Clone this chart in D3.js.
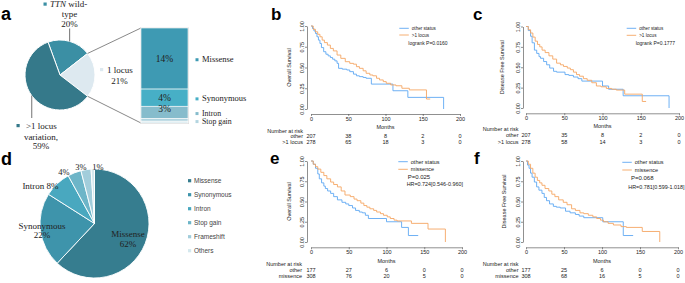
<!DOCTYPE html>
<html lang="en">
<head>
<meta charset="UTF-8">
<title>TTN variation and survival</title>
<script src="https://d3js.org/d3.v7.min.js"></script>
<style>
  body { margin: 0; background: #fff; }
  svg { display: block; }
  .serif { font-family: "Liberation Serif", "Times New Roman", serif; fill: #222; }
  .sans { font-family: "Liberation Sans", Arial, sans-serif; fill: #444; }
  .km text { font-family: "Liberation Sans", Arial, sans-serif; fill: #222; }
  .km .domain, .km .tick line { stroke: #444; stroke-width: 0.6; }
  .tag { font-family: "Liberation Sans", Arial, sans-serif; font-weight: bold; fill: #000; }
</style>
</head>
<body>
<div id="chart"></div>
<script>
// panel a: TTN status and the 1-locus breakdown
const aNames = ["TTN wild-type", "1 locus", ">1 locus variation"];
const aValues = [20, 21, 59];
const barNames = ["Missense", "Synonymous", "Intron", "Stop gain", "Others"];
const barValues = [13.5, 3.8, 2.7, 0.6, 0.4];

// panel d: variant types
const dNames = ["Missense", "Synonymous", "Intron", "Stop gain", "Frameshift", "Others"];
const dValues = [62, 22, 8, 4, 3, 1];

// survival axes / risk table
const survTicks = [0, 0.25, 0.5, 0.75, 1];
const monthTicks = [0, 50, 100, 150, 200];
const riskTimes = [0, 50, 100, 150, 200];

// KM curves, [months, survival]
const bOther = [[0,1],[2,0.97],[4,0.94],[6,0.91],[8,0.87],[10,0.83],[12,0.79],[14,0.74],[17,0.69],[20,0.66],[23,0.64],[26,0.62],[29,0.6],[32,0.58],[35,0.55],[37,0.49],[42,0.48],[48,0.47],[52,0.45],[57,0.42],[61,0.4],[65,0.39],[70,0.38],[74,0.37],[81,0.3],[110,0.22],[130,0.14],[178,0]];
const bLocus = [[0,1],[3,0.96],[6,0.93],[9,0.9],[12,0.87],[15,0.83],[18,0.8],[22,0.77],[26,0.73],[30,0.7],[35,0.65],[40,0.61],[46,0.57],[52,0.55],[57,0.54],[61,0.51],[65,0.49],[70,0.46],[74,0.43],[79,0.41],[83,0.4],[88,0.37],[92,0.35],[97,0.33],[101,0.31],[107,0.29],[114,0.28],[122,0.25],[132,0.23],[155,0.12]];
const cOther = [[0,1],[3,0.95],[6,0.88],[8,0.8],[11,0.71],[14,0.67],[17,0.63],[19,0.61],[23,0.57],[27,0.53],[31,0.49],[36,0.45],[40,0.44],[51,0.41],[56,0.4],[62,0.38],[68,0.36],[73,0.33],[100,0.27],[108,0.23],[127,0.15],[187,0]];
const cLocus = [[0,1],[3,0.96],[6,0.92],[9,0.87],[12,0.82],[15,0.78],[18,0.75],[21,0.71],[25,0.68],[30,0.64],[35,0.6],[40,0.55],[45,0.53],[49,0.51],[54,0.49],[58,0.47],[62,0.44],[66,0.41],[70,0.39],[75,0.36],[80,0.34],[86,0.31],[92,0.27],[98,0.26],[105,0.24],[112,0.23],[118,0.22],[129,0.17],[152,0.08]];
const eOther = [[0,1],[3,0.96],[6,0.91],[9,0.84],[11,0.78],[14,0.73],[17,0.69],[19,0.66],[22,0.63],[26,0.6],[30,0.56],[35,0.52],[41,0.49],[46,0.47],[50,0.45],[55,0.42],[59,0.39],[64,0.37],[68,0.36],[72,0.33],[76,0.29],[100,0.25],[120,0.18],[129,0.08]];
const eMis = [[0,1],[3,0.96],[6,0.93],[9,0.9],[13,0.86],[17,0.82],[21,0.78],[26,0.74],[30,0.71],[35,0.68],[40,0.63],[45,0.58],[52,0.56],[57,0.53],[61,0.51],[66,0.48],[70,0.45],[74,0.43],[78,0.41],[83,0.39],[87,0.37],[92,0.35],[96,0.33],[101,0.31],[105,0.29],[110,0.27],[114,0.26],[133,0.23],[155,0.16],[178,0]];
const fOther = [[0,1],[2,0.95],[4,0.91],[6,0.85],[8,0.8],[11,0.74],[14,0.68],[17,0.64],[21,0.6],[24,0.55],[27,0.51],[31,0.47],[36,0.44],[40,0.43],[45,0.42],[52,0.38],[58,0.36],[65,0.34],[70,0.32],[76,0.3],[101,0.25],[128,0.08]];
const fMis = [[0,1],[3,0.96],[6,0.91],[9,0.85],[12,0.8],[15,0.76],[18,0.73],[21,0.7],[25,0.66],[30,0.63],[34,0.59],[38,0.56],[43,0.52],[49,0.49],[54,0.46],[60,0.41],[65,0.39],[71,0.36],[76,0.35],[82,0.33],[88,0.31],[93,0.29],[98,0.27],[102,0.25],[108,0.23],[115,0.21],[125,0.19],[132,0.18],[153,0.13],[176,0]];

const bRiskOther = [207, 38, 8, 2, 0], bRiskLocus = [278, 65, 18, 3, 0];
const cRiskOther = [207, 35, 8, 2, 0], cRiskLocus = [278, 58, 14, 3, 0];
const eRiskOther = [177, 27, 6, 0, 0], eRiskMis = [308, 76, 20, 5, 0];
const fRiskOther = [177, 25, 6, 0, 0], fRiskMis = [308, 68, 16, 5, 0];

const blue = "#5fa8f3", orange = "#f5a663";

const svg = d3.select("#chart").append("svg").attr("width", 685).attr("height", 283);
svg.append("rect").attr("width", 685).attr("height", 283).attr("fill", "#fff");

// panel letters
[["a", 1, 20, 18], ["b", 271, 20, 17], ["c", 473, 19.5, 17], ["d", 1, 165, 18], ["e", 270, 164, 17], ["f", 474, 164, 17]]
  .forEach(t => svg.append("text").attr("class", "tag").attr("x", t[1]).attr("y", t[2]).attr("font-size", t[3]).text(t[0]));

// ---------- panel a ----------
const aColors = ["#3b8fa4", "#dde9f0", "#35798a"];
const aCx = 60, aCy = 75, aR = 35;
const a0 = -20 * Math.PI / 180;
const aArcs = d3.pie().sort(null).startAngle(a0).endAngle(a0 + 2 * Math.PI)(aValues);
const aArc = d3.arc().innerRadius(0).outerRadius(aR);
const aG = svg.append("g").attr("transform", `translate(${aCx},${aCy})`);
aG.selectAll("path").data(aArcs).join("path")
  .attr("d", aArc).attr("fill", (d, i) => aColors[i]).attr("stroke", "#fff").attr("stroke-width", 1);
const onA = (ang, r) => [aCx + r * Math.sin(ang), aCy - r * Math.cos(ang)];

// stacked bar for the 1-locus slice
const barColors = ["#3e9ab3", "#47afc6", "#86bccc", "#b3d5e0", "#d6e8ee"];
const bx0 = 141, bx1 = 188;
const bY = d3.scaleLinear().domain([0, d3.sum(barValues)]).range([28, 123]);
const stack = [];
barValues.reduce((acc, v, i) => { stack.push({ name: barNames[i], v, y0: acc, y1: acc + v }); return acc + v; }, 0);

const p1 = onA(aArcs[1].startAngle, aR), p2 = onA(aArcs[1].endAngle, aR);
svg.append("line").attr("x1", p1[0]).attr("y1", p1[1]).attr("x2", bx0).attr("y2", bY(0)).attr("stroke", "#555").attr("stroke-width", 0.7);
svg.append("line").attr("x1", p2[0]).attr("y1", p2[1]).attr("x2", bx0).attr("y2", bY(d3.sum(barValues))).attr("stroke", "#555").attr("stroke-width", 0.7);

svg.append("rect").attr("x", bx0 - 0.5).attr("y", bY(0) - 0.5).attr("width", bx1 - bx0 + 1.5).attr("height", bY(d3.sum(barValues)) - bY(0) + 1.5)
  .attr("fill", "#ddd");
svg.selectAll("rect.seg").data(stack).join("rect").attr("class", "seg")
  .attr("x", bx0).attr("width", bx1 - bx0)
  .attr("y", d => bY(d.y0)).attr("height", d => bY(d.y1) - bY(d.y0))
  .attr("fill", (d, i) => barColors[i]).attr("stroke", "#fff").attr("stroke-width", 0.6);
stack.forEach(d => {
  if (d.v < 2) return;
  const yc = (bY(d.y0) + bY(d.y1)) / 2;
  svg.append("text").attr("class", "serif").attr("font-size", 9.5).attr("text-anchor", "middle")
    .attr("x", (bx0 + bx1) / 2).attr("y", yc + 3 - (d.v < 3 ? 3 : 0)).text(Math.round(d.v) + "%");
});
let prevY = -99;
stack.slice(0, 4).forEach((d, i) => {
  let yc = (bY(d.y0) + bY(d.y1)) / 2 + 1.2;
  yc = Math.max(yc, prevY + 8); prevY = yc;
  svg.append("rect").attr("x", 195.5).attr("y", yc - 1.5).attr("width", 3).attr("height", 3).attr("fill", barColors[i]);
  svg.append("text").attr("class", "serif").attr("font-size", i > 1 ? 7.8 : 8.5).attr("x", 202).attr("y", yc + 2.6).text(d.name);
});

// pie labels
const sq = (x, y, c) => svg.append("rect").attr("x", x).attr("y", y).attr("width", 3.2).attr("height", 3.2).attr("fill", c);
const pct = v => v + "%";
// TTN wild-type
sq(43.5, 2.5, aColors[0]);
const t1 = svg.append("text").attr("class", "serif").attr("font-size", 9).attr("x", 50).attr("y", 6.5);
t1.append("tspan").attr("font-style", "italic").text("TTN");
t1.append("tspan").text(" wild-");
svg.append("text").attr("class", "serif").attr("font-size", 9).attr("text-anchor", "middle").attr("x", 69.5).attr("y", 17).text("type");
svg.append("text").attr("class", "serif").attr("font-size", 9).attr("text-anchor", "middle").attr("x", 69.5).attr("y", 27.3).text(pct(aValues[0]));
const m0 = onA((aArcs[0].startAngle + aArcs[0].endAngle) / 2, aR);
svg.append("line").attr("x1", m0[0]).attr("y1", m0[1]).attr("x2", m0[0]).attr("y2", 28.5).attr("stroke", "#333").attr("stroke-width", 0.7);
// 1 locus
sq(100, 68, aColors[1]);
svg.append("text").attr("class", "serif").attr("font-size", 9).attr("x", 107).attr("y", 73).text(aNames[1]);
svg.append("text").attr("class", "serif").attr("font-size", 9).attr("text-anchor", "middle").attr("x", 119.5).attr("y", 84).text(pct(aValues[1]));
// >1 locus
const m2 = onA((aArcs[2].startAngle + aArcs[2].endAngle) / 2, aR);
svg.append("line").attr("x1", m2[0]).attr("y1", m2[1]).attr("x2", m2[0]).attr("y2", 118).attr("stroke", "#333").attr("stroke-width", 0.7);
sq(16.5, 124, aColors[2]);
svg.append("text").attr("class", "serif").attr("font-size", 9).attr("x", 26).attr("y", 128.8).text(">1 locus");
svg.append("text").attr("class", "serif").attr("font-size", 9).attr("text-anchor", "middle").attr("x", 41).attr("y", 139.5).text("variation,");
svg.append("text").attr("class", "serif").attr("font-size", 9).attr("text-anchor", "middle").attr("x", 41).attr("y", 148.5).text(pct(aValues[2]));

// ---------- panel d ----------
const dColors = ["#367d8f", "#3e94ab", "#49a8bf", "#6db5c8", "#a2cddb", "#d4e8ee"];
const dCx = 94.5, dCy = 223.5, dR = 54.5;
const dArcs = d3.pie().sort(null)(dValues);
svg.append("g").attr("transform", `translate(${dCx},${dCy})`)
  .selectAll("path").data(dArcs).join("path")
  .attr("d", d3.arc().innerRadius(0).outerRadius(dR))
  .attr("fill", (d, i) => dColors[i]).attr("stroke", "#fff").attr("stroke-width", 0.9);

const dLabelAt = [[128, 237.3, true], [42, 228.6, true], [40.5, 189, false], [64, 175, false], [81, 169.5, false], [98, 169.5, false]];
dArcs.forEach((d, i) => {
  const [lx, ly, two] = dLabelAt[i];
  if (two) {
    svg.append("text").attr("class", "serif").attr("font-size", 9).attr("text-anchor", "middle").attr("x", lx).attr("y", ly).text(dNames[i]);
    svg.append("text").attr("class", "serif").attr("font-size", 9).attr("text-anchor", "middle").attr("x", lx).attr("y", ly + 9.2).text(pct(dValues[i]));
  } else {
    const lab = i === 2 ? dNames[i] + " " + pct(dValues[i]) : pct(dValues[i]);
    svg.append("text").attr("class", "serif").attr("font-size", i === 2 ? 9 : 8.5).attr("text-anchor", "middle").attr("x", lx).attr("y", ly).text(lab);
  }
});
dNames.forEach((n, i) => {
  const yc = 180.7 + i * 14;
  svg.append("rect").attr("x", 188).attr("y", yc - 1.6).attr("width", 3.2).attr("height", 3.2).attr("fill", dColors[i]);
  svg.append("text").attr("class", "sans").attr("font-size", 6.5).attr("x", 194).attr("y", yc + 2.3).text(n);
});

// ---------- KM panels ----------
function kmPanel(p) {
  const g = svg.append("g").attr("class", "km");
  const x = d3.scaleLinear().domain([0, 200]).range([p.x0, p.x1]);
  const y = d3.scaleLinear().domain([0, 1]).range([p.y0, p.y1]);

  const yAx = g.append("g").attr("transform", `translate(${p.yAxisX},0)`)
    .call(d3.axisLeft(y).tickValues(survTicks).tickFormat(d3.format(".2f")).tickSize(2).tickSizeOuter(0));
  yAx.attr("font-size", 5.5);
  yAx.selectAll("text").attr("transform", "rotate(-90)").attr("x", 0).attr("y", -3.5).attr("dy", 0).attr("text-anchor", "middle");

  const xAx = g.append("g").attr("transform", `translate(0,${p.xAxisY})`)
    .call(d3.axisBottom(x).tickValues(monthTicks).tickSize(2).tickPadding(1).tickSizeOuter(0));
  xAx.attr("font-size", 5.5);

  g.append("text").attr("font-size", 5.5).attr("text-anchor", "middle")
    .attr("transform", `translate(${p.yTitleX},${(p.y0 + p.y1) / 2}) rotate(-90)`).text(p.yTitle);
  g.append("text").attr("font-size", 5.5).attr("text-anchor", "middle").attr("x", x(100)).attr("y", p.monthsY).text("Months");

  const line = d3.line().x(d => x(d[0])).y(d => y(d[1])).curve(d3.curveStepAfter);
  p.series.forEach(s => {
    const pts = s.data.slice();
    const last = pts[pts.length - 1];
    if (s.end > last[0]) pts.push([s.end, last[1]]);
    g.append("path").attr("d", line(pts)).attr("fill", "none").attr("stroke", s.color).attr("stroke-width", 0.9);
  });

  // legend
  p.series.forEach((s, i) => {
    const yc = p.legY[i];
    g.append("line").attr("x1", p.legX).attr("x2", p.legX + 9.5).attr("y1", yc).attr("y2", yc).attr("stroke", s.color).attr("stroke-width", 0.9);
    g.append("text").attr("font-size", p.legFont).attr("x", p.legX + 12.5).attr("y", yc + p.legFont * 0.36).text(s.label);
  });
  p.notes.forEach((n, i) => {
    g.append("text").attr("font-size", n.size).attr("x", n.x).attr("y", p.noteY[i] + n.size * 0.36).text(n.text);
  });

  // number at risk
  g.append("text").attr("font-size", 5.5).attr("text-anchor", "end").attr("x", p.riskRight).attr("y", p.riskY[0] + 2).text("Number at risk");
  p.series.forEach((s, i) => {
    const yy = p.riskY[i + 1] + 2;
    g.append("text").attr("font-size", 5.5).attr("text-anchor", "end").attr("x", p.riskRight).attr("y", yy).text(s.riskName);
    g.selectAll(null).data(s.risk).join("text").attr("font-size", 5.5).attr("text-anchor", "middle")
      .attr("x", (d, j) => x(riskTimes[j])).attr("y", yy).text(d => d);
  });
}

kmPanel({
  x0: 311, x1: 460, y0: 109, y1: 26, yAxisX: 307, xAxisY: 114, yTitleX: 291, yTitle: "Overall Survival",
  monthsY: 128.8, riskRight: 303, riskY: [130.7, 136, 141.7],
  legX: 399.3, legY: [28.3, 35], legFont: 4.6, noteY: [43.3],
  notes: [{ text: "logrank P=0.0160", x: 408.3, size: 5 }],
  series: [
    { data: bOther, end: 178, color: blue, label: "other status", riskName: "other", risk: bRiskOther },
    { data: bLocus, end: 160, color: orange, label: ">1 locus", riskName: ">1 locus", risk: bRiskLocus }
  ]
});
kmPanel({
  x0: 526, x1: 679, y0: 108, y1: 26.5, yAxisX: 523, xAxisY: 113.3, yTitleX: 503.5, yTitle: "Disease Free Survival",
  monthsY: 127.8, riskRight: 518.5, riskY: [129.3, 135.3, 141.7],
  legX: 626.7, legY: [28.3, 35.3], legFont: 4.6, noteY: [43.3],
  notes: [{ text: "logrank P=0.1777", x: 635.7, size: 5 }],
  series: [
    { data: cOther, end: 187, color: blue, label: "other status", riskName: "other", risk: cRiskOther },
    { data: cLocus, end: 157, color: orange, label: ">1 locus", riskName: ">1 locus", risk: cRiskLocus }
  ]
});
kmPanel({
  x0: 311, x1: 462, y0: 242, y1: 161, yAxisX: 307, xAxisY: 247.3, yTitleX: 291, yTitle: "Overall Survival",
  monthsY: 262.7, riskRight: 302, riskY: [264.3, 270.3, 276],
  legX: 398.3, legY: [161.7, 169.3], legFont: 5.5, noteY: [176.7, 184.3],
  notes: [{ text: "P=0.025", x: 407.7, size: 6 }, { text: "HR=0.724[0.546-0.960]", x: 406.7, size: 5.4 }],
  series: [
    { data: eOther, end: 142, color: blue, label: "other status", riskName: "other", risk: eRiskOther },
    { data: eMis, end: 178, color: orange, label: "missence", riskName: "missence", risk: eRiskMis }
  ]
});
kmPanel({
  x0: 526, x1: 678, y0: 242, y1: 161, yAxisX: 523, xAxisY: 247.3, yTitleX: 505.5, yTitle: "Disease Free Survival",
  monthsY: 262.7, riskRight: 518.5, riskY: [264.3, 270, 276],
  legX: 622.3, legY: [162.3, 170], legFont: 5.5, noteY: [178.3, 186.7],
  notes: [{ text: "P=0.068", x: 631, size: 6 }, { text: "HR=0.781[0.599-1.018]", x: 628.3, size: 5.4 }],
  series: [
    { data: fOther, end: 141, color: blue, label: "other status", riskName: "other", risk: fRiskOther },
    { data: fMis, end: 176, color: orange, label: "missence", riskName: "missence", risk: fRiskMis }
  ]
});
</script>
</body>
</html>
